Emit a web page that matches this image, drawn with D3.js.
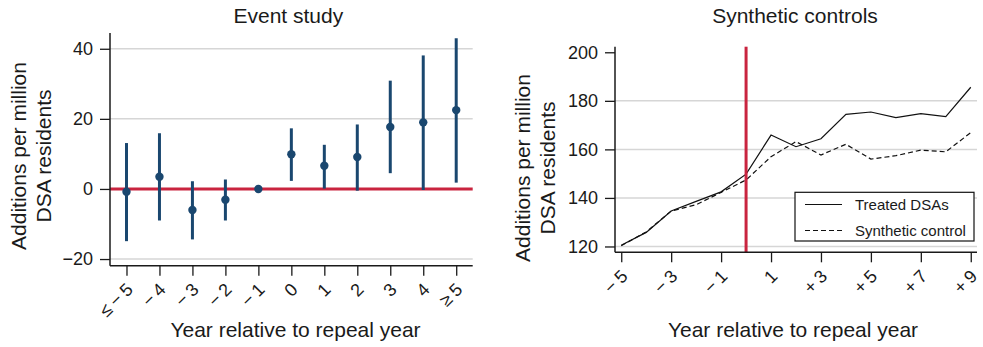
<!DOCTYPE html>
<html>
<head>
<meta charset="utf-8">
<script src="https://cdn.jsdelivr.net/npm/d3@7"></script>
<style>
  html, body { margin: 0; padding: 0; background: #fff; }
  svg { display: block; font-family: "Liberation Sans", Arial, Helvetica, sans-serif; }
</style>
</head>
<body>
<svg id="chart" width="983" height="347"></svg>
<script>
// Event-study panel: coefficients and 95% intervals by year relative to repeal
const eventYears = [-5, -4, -3, -2, -1, 0, 1, 2, 3, 4, 5];
const eventLabels = ["≤−5", "−4", "−3", "−2", "−1", "0", "1", "2", "3", "4", "≥5"];
const eventCoef = [-0.8, 3.5, -6.0, -3.1, 0, 9.9, 6.6, 9.1, 17.7, 19.0, 22.5];
const eventLow  = [-14.9, -9.0, -14.4, -9.0, null, 2.3, 0.1, -0.5, 4.5, -0.3, 1.8];
const eventHigh = [13.1, 15.9, 2.2, 2.7, null, 17.3, 12.6, 18.4, 30.9, 38.1, 43.0];
const eventYTicks = [-20, 0, 20, 40];
const eventYTickLabels = ["−20", "0", "20", "40"];

// Synthetic-control panel: treated DSAs vs. synthetic control
const synthYears = [-5, -4, -3, -2, -1, 0, 1, 2, 3, 4, 5, 6, 7, 8, 9];
const treatedDSAs = [120.5, 125.8, 134.6, 138.6, 142.5, 149.8, 165.9, 161.1, 164.4, 174.4, 175.4, 173.1, 174.7, 173.5, 185.6];
const syntheticControl = [120.3, 126.0, 134.6, 137.2, 142.3, 147.4, 157.0, 163.2, 157.7, 162.1, 156.0, 157.4, 159.7, 159.0, 166.9];
const synthXTicks = [-5, -3, -1, 1, 3, 5, 7, 9];
const synthXTickLabels = ["−5", "−3", "−1", "1", "+3", "+5", "+7", "+9"];
const synthYTicks = [120, 140, 160, 180, 200];
const synthGrid = [120, 140, 160, 180];
const legendLabels = ["Treated DSAs", "Synthetic control"];

const navy = "#1a476f";
const red = "#c9243f";
const grid = "#d6d6d6";
const ink = "#1a1a1a";

const svg = d3.select("#chart");

function yAxisTitle(g, cx, cy) {
  const t = g.append("text")
    .attr("transform", `translate(${cx},${cy}) rotate(-90)`)
    .attr("text-anchor", "middle")
    .attr("font-size", 21)
    .attr("fill", ink);
  t.append("tspan").attr("x", 0).attr("y", 0).text("Additions per million");
  t.append("tspan").attr("x", 0).attr("y", 24.5).text("DSA residents");
}

function styleAxis(a) {
  a.select(".domain").attr("stroke", ink).attr("stroke-width", 1.5);
  a.selectAll(".tick line").attr("stroke", ink).attr("stroke-width", 1.3);
  a.selectAll(".tick text").attr("fill", ink).attr("font-size", 18)
    .attr("font-family", "\"Liberation Sans\", Arial, Helvetica, sans-serif");
}

function rotateXLabels(a) {
  a.selectAll(".tick text")
    .attr("text-anchor", "end")
    .attr("dy", 0)
    .attr("y", 0)
    .attr("letter-spacing", 4)
    .attr("transform", "translate(9.8,22.2) rotate(-45)");
}

// ---------- Left panel: event study ----------
{
  const L = 110, R = 472.7, T = 33, B = 265.7;
  const x = d3.scaleLinear().domain([-5.5, 5.5]).range([L, R]);
  const y = d3.scaleLinear().domain([-21.9, 44.5]).range([B, T]);
  const g = svg.append("g");

  g.append("g").selectAll("line").data(eventYTicks.filter(v => v !== 0)).join("line")
    .attr("x1", L).attr("x2", R)
    .attr("y1", d => y(d)).attr("y2", d => y(d))
    .attr("stroke", grid).attr("stroke-width", 1.5);

  g.append("line")
    .attr("x1", L).attr("x2", R).attr("y1", y(0)).attr("y2", y(0))
    .attr("stroke", red).attr("stroke-width", 3);

  const pts = eventYears.map((yr, i) => ({ yr, c: eventCoef[i], lo: eventLow[i], hi: eventHigh[i] }));
  g.append("g").selectAll("line").data(pts.filter(d => d.lo !== null)).join("line")
    .attr("x1", d => x(d.yr)).attr("x2", d => x(d.yr))
    .attr("y1", d => y(d.lo)).attr("y2", d => y(d.hi))
    .attr("stroke", navy).attr("stroke-width", 3);
  g.append("g").selectAll("circle").data(pts).join("circle")
    .attr("cx", d => x(d.yr)).attr("cy", d => y(d.c)).attr("r", 4.2)
    .attr("fill", navy);

  const ya = g.append("g").attr("transform", `translate(${L},0)`)
    .call(d3.axisLeft(y).tickValues(eventYTicks).tickSize(10).tickPadding(7)
      .tickFormat((d, i) => eventYTickLabels[i]));
  ya.select(".domain").attr("d", `M0,${T}V${B}`);
  styleAxis(ya);

  const xa = g.append("g").attr("transform", `translate(0,${B})`)
    .call(d3.axisBottom(x).tickValues(eventYears).tickSize(10)
      .tickFormat((d, i) => eventLabels[i]));
  xa.select(".domain").attr("d", `M${L},0H${R}`);
  styleAxis(xa);
  rotateXLabels(xa);

  g.append("text").attr("x", (L + R) / 2 - 3).attr("y", 23)
    .attr("text-anchor", "middle").attr("font-size", 21).attr("fill", ink)
    .text("Event study");
  g.append("text").attr("x", 295.5).attr("y", 337)
    .attr("text-anchor", "middle").attr("font-size", 21).attr("fill", ink)
    .text("Year relative to repeal year");
  yAxisTitle(g, 26, 156);
}

// ---------- Right panel: synthetic controls ----------
{
  const L = 615, R = 977, T = 46.7, B = 252.3;
  const x = d3.scaleLinear().domain([-5.25, 9.25]).range([L, R]);
  const y = d3.scaleLinear().domain([117.6, 202.3]).range([B, T]);
  const g = svg.append("g");

  g.append("g").selectAll("line").data(synthGrid).join("line")
    .attr("x1", L).attr("x2", R)
    .attr("y1", d => y(d)).attr("y2", d => y(d))
    .attr("stroke", grid).attr("stroke-width", 1.5);

  const line = d3.line().x((d, i) => x(synthYears[i])).y(d => y(d));
  g.append("path").datum(syntheticControl).attr("d", line)
    .attr("fill", "none").attr("stroke", "#111").attr("stroke-width", 1.2)
    .attr("stroke-dasharray", "5,3");
  g.append("path").datum(treatedDSAs).attr("d", line)
    .attr("fill", "none").attr("stroke", "#111").attr("stroke-width", 1.2);

  g.append("line")
    .attr("x1", x(0)).attr("x2", x(0)).attr("y1", T).attr("y2", B)
    .attr("stroke", red).attr("stroke-width", 3);

  const ya = g.append("g").attr("transform", `translate(${L},0)`)
    .call(d3.axisLeft(y).tickValues(synthYTicks).tickSize(10).tickPadding(7));
  ya.select(".domain").attr("d", `M0,${T}V${B}`);
  styleAxis(ya);

  const xa = g.append("g").attr("transform", `translate(0,${B})`)
    .call(d3.axisBottom(x).tickValues(synthXTicks).tickSize(10)
      .tickFormat((d, i) => synthXTickLabels[i]));
  xa.select(".domain").attr("d", `M${L},0H${R}`);
  styleAxis(xa);
  rotateXLabels(xa);

  // legend
  const lg = g.append("g");
  lg.append("rect").attr("x", 795).attr("y", 192.3).attr("width", 179).attr("height", 48.7)
    .attr("fill", "#fff").attr("stroke", "#111").attr("stroke-width", 1.2);
  legendLabels.forEach((lab, i) => {
    const cy = 204.5 + i * 26;
    lg.append("line").attr("x1", 805).attr("x2", 842).attr("y1", cy).attr("y2", cy)
      .attr("stroke", "#111").attr("stroke-width", 1.2)
      .attr("stroke-dasharray", i === 1 ? "5,3" : null);
    lg.append("text").attr("x", 855).attr("y", cy + 5.3)
      .attr("font-size", 15).attr("fill", ink).text(lab);
  });

  g.append("text").attr("x", 795).attr("y", 23)
    .attr("text-anchor", "middle").attr("font-size", 21).attr("fill", ink)
    .text("Synthetic controls");
  g.append("text").attr("x", 793).attr("y", 337)
    .attr("text-anchor", "middle").attr("font-size", 21).attr("fill", ink)
    .text("Year relative to repeal year");
  yAxisTitle(g, 530, 168);
}
</script>
</body>
</html>
